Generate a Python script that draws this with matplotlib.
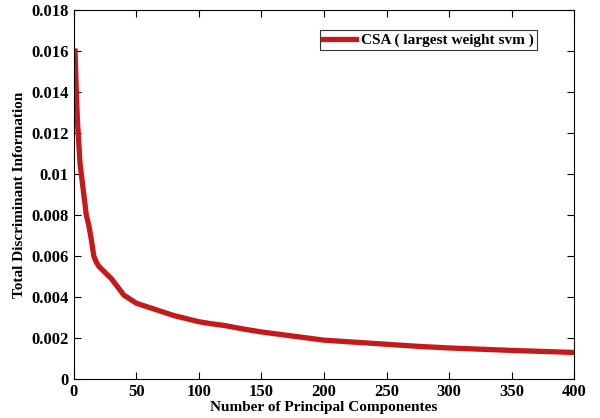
import numpy as np
import matplotlib
matplotlib.use('Agg')
import matplotlib.pyplot as plt

plt.rcParams['font.family'] = ['Liberation Serif', 'DejaVu Serif']
plt.rcParams['font.weight'] = 'bold'

# values
n_pc = [1, 2, 3, 5, 7, 10, 12, 14, 16, 18, 20, 25, 30, 35, 40, 45, 50, 60, 70,
        80, 90, 100, 110, 120, 135, 150, 175, 200, 225, 250, 275, 300, 325, 350,
        375, 400]
tdi = [0.0160, 0.0140, 0.0125, 0.0105, 0.0095, 0.0080, 0.0075, 0.0068, 0.0060,
       0.0057, 0.0055, 0.0052, 0.0049, 0.0045, 0.0041, 0.0039, 0.0037, 0.0035,
       0.0033, 0.0031, 0.00295, 0.0028, 0.0027, 0.00262, 0.00245, 0.0023,
       0.0021, 0.0019, 0.0018, 0.0017, 0.0016, 0.00152, 0.00146, 0.0014,
       0.00135, 0.0013]

fig = plt.figure(figsize=(6, 4.18), dpi=100)
ax = fig.add_axes([0.123, 0.093, 0.834, 0.883])
ax.plot(n_pc, tdi, color='#c41a1a', lw=3.8, label='CSA ( largest weight svm )')

ax.set_xlim(0, 400)
ax.set_ylim(0, 0.018)
ax.set_xticks(np.arange(0, 401, 50))
ax.set_yticks(np.arange(0, 0.0181, 0.002))
ax.set_yticklabels(['0', '0.002', '0.004', '0.006', '0.008', '0.01',
                    '0.012', '0.014', '0.016', '0.018'])
ax.tick_params(direction='in', top=True, right=True, labelsize=12, length=5)
for lab in ax.get_xticklabels() + ax.get_yticklabels():
    lab.set_fontweight('bold')
ax.set_xlabel('Number of Principal Componentes', fontsize=11, fontweight='bold', labelpad=1)
ax.set_ylabel('Total Discriminant Information', fontsize=11, fontweight='bold', labelpad=4)

leg = ax.legend(loc='upper right', bbox_to_anchor=(0.925, 0.945), fontsize=11,
                frameon=True, fancybox=False, edgecolor='black', handlelength=2.2,
                borderpad=0.2, handletextpad=0.3, borderaxespad=0)
leg.get_frame().set_linewidth(0.8)
for t in leg.get_texts():
    t.set_fontweight('bold')

fig.savefig('out.png', dpi=100)
